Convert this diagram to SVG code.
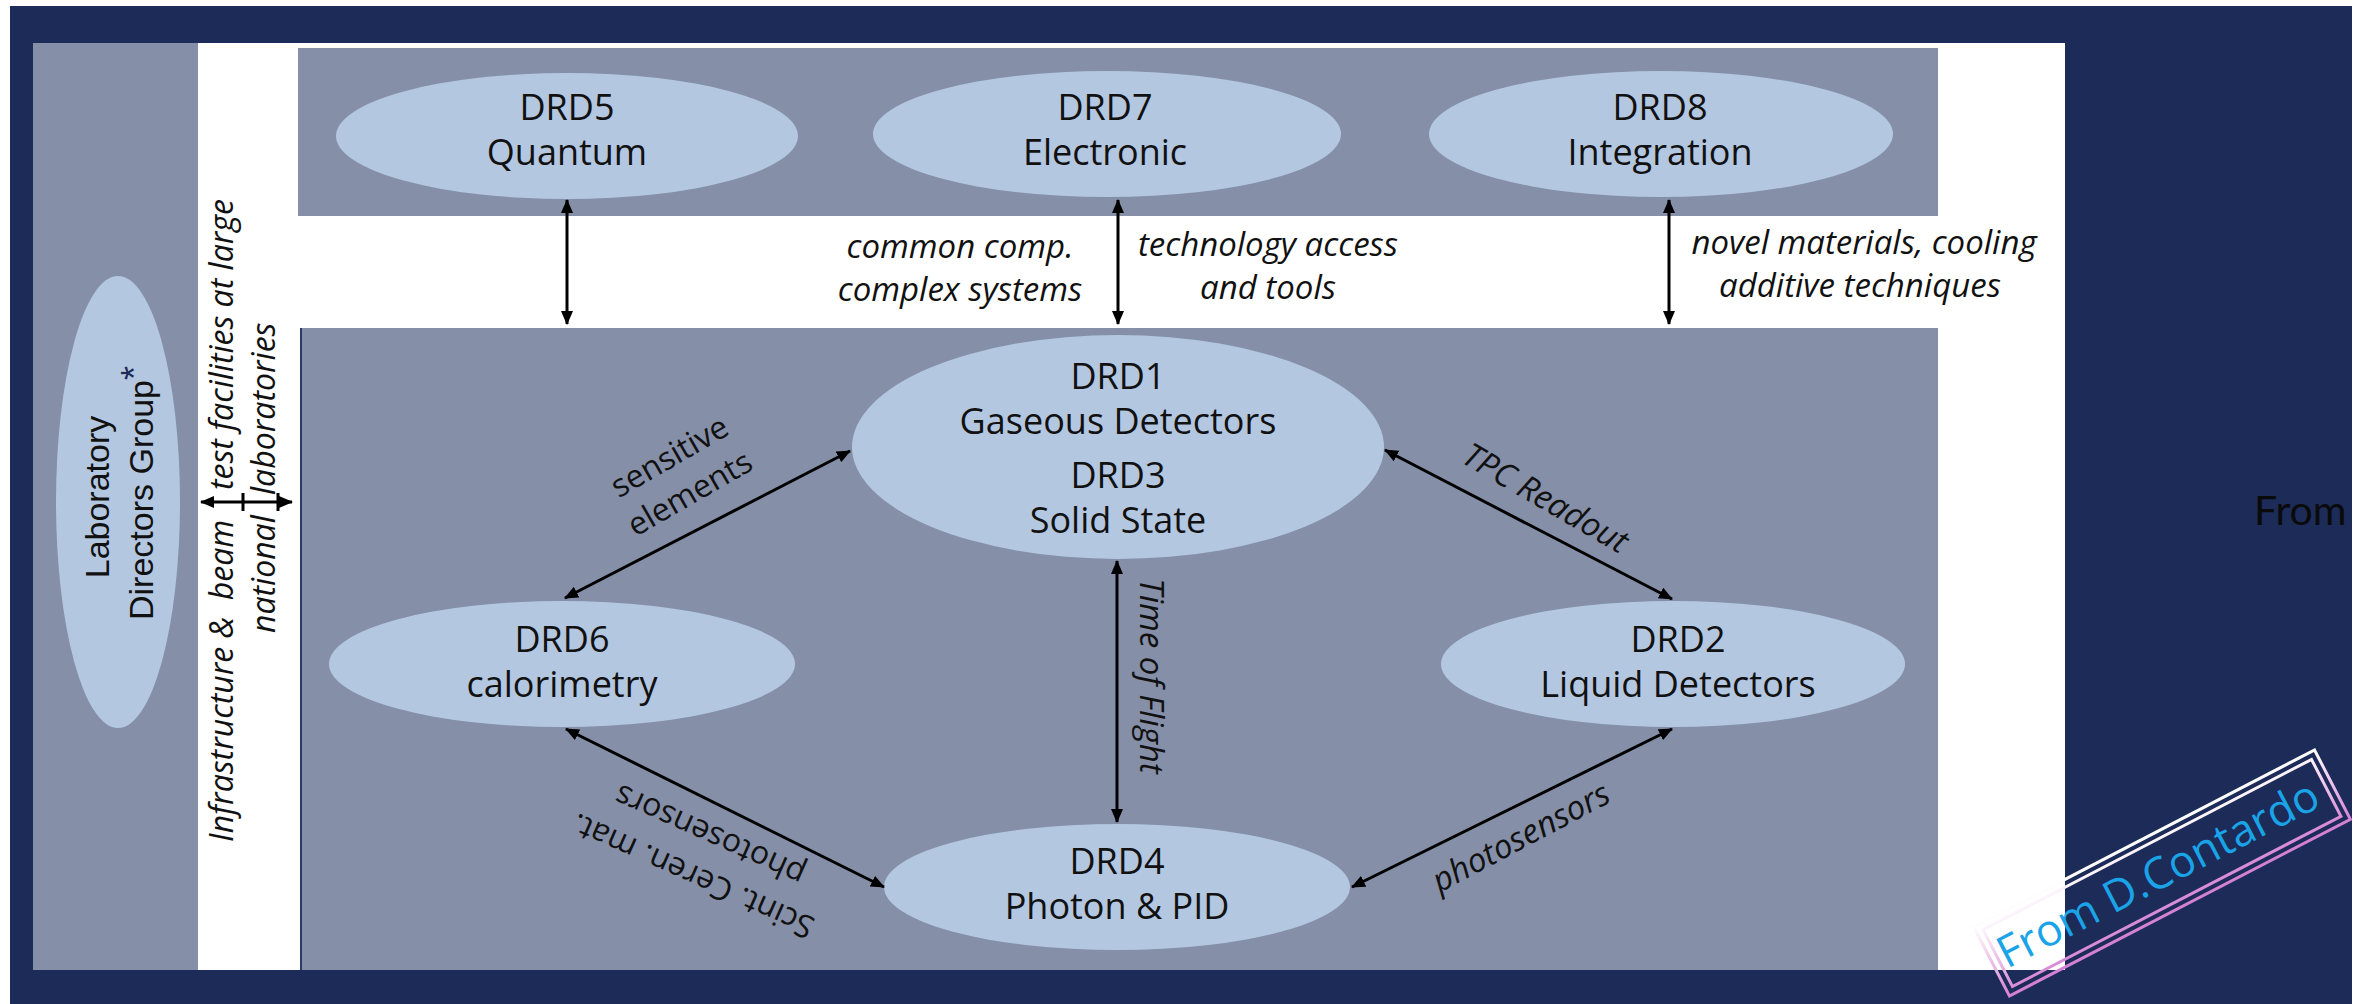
<svg xmlns="http://www.w3.org/2000/svg" width="2364" height="1004" viewBox="0 0 2364 1004">
<defs>
<style>
.navy{fill:#1c2b57}
.panel{fill:#858fa8}
.node ellipse{fill:#b4c7e1}
.nt{font-family:"Open Sans","Liberation Sans",sans-serif;font-size:36px;fill:#111;text-anchor:middle}
.cal{font-family:"Liberation Sans",Arial,sans-serif;font-size:34px;fill:#111;text-anchor:middle}
.lbl{font-family:"Open Sans","Liberation Sans",sans-serif;font-size:33px;font-style:italic;fill:#111;text-anchor:middle}
.lblu{font-family:"Open Sans","Liberation Sans",sans-serif;font-size:32px;fill:#111;text-anchor:middle}
.side{font-family:"Open Sans","Liberation Sans",sans-serif;font-size:32px;font-style:italic;fill:#111;text-anchor:start}
#connectors line{stroke:#000;stroke-width:3}
#connectors .arr{marker-start:url(#ah);marker-end:url(#ah)}
.frame{fill:none;stroke:url(#stampg);stroke-width:3}
</style>
<marker id="ah" viewBox="0 0 14 12" refX="13" refY="6" markerWidth="14" markerHeight="12" markerUnits="userSpaceOnUse" orient="auto-start-reverse"><path d="M0,0 L14,6 L0,12 z" fill="#000"/></marker>
<linearGradient id="stampg" gradientUnits="userSpaceOnUse" x1="0" y1="-40" x2="0" y2="40"><stop offset="0" stop-color="#ffffff"/><stop offset="0.35" stop-color="#f3d5f1"/><stop offset="1" stop-color="#d47fd3"/></linearGradient>
</defs>

<rect width="2364" height="1004" fill="#ffffff"/>
<rect class="navy" x="10" y="6" width="2342" height="998"/>
<rect x="198" y="43" width="1867" height="927" fill="#ffffff"/>
<rect class="panel" x="33" y="43" width="165" height="927"/>
<rect class="panel" x="298" y="48" width="1640" height="168"/>
<rect class="panel" x="301" y="328" width="1637" height="642"/>
<line x1="301" y1="328" x2="301" y2="970" stroke="#2b3c6a" stroke-width="2"/>

<g id="lab" class="node">
<ellipse cx="118" cy="502" rx="62" ry="226"/>
<g transform="rotate(-90)">
<text class="cal"><tspan x="-497" y="109">Laboratory</tspan><tspan x="-493" y="153">Directors Group</tspan><tspan dy="-6" style="fill:#1c2b57;font-size:36px">*</tspan></text>
</g>
</g>

<g id="drd5" class="node">
<ellipse cx="567" cy="136" rx="231" ry="63"/>
<text class="nt"><tspan x="567" y="120">DRD5</tspan><tspan x="567" y="165">Quantum</tspan></text>
</g>
<g id="drd7" class="node">
<ellipse cx="1107" cy="134" rx="234" ry="63"/>
<text class="nt"><tspan x="1105" y="120">DRD7</tspan><tspan x="1105" y="165">Electronic</tspan></text>
</g>
<g id="drd8" class="node">
<ellipse cx="1661" cy="134" rx="232" ry="63"/>
<text class="nt"><tspan x="1660" y="120">DRD8</tspan><tspan x="1660" y="165">Integration</tspan></text>
</g>
<g id="drd1-drd3" class="node">
<ellipse cx="1118" cy="447" rx="266" ry="112"/>
<text class="nt"><tspan x="1118" y="389">DRD1</tspan><tspan x="1118" y="434">Gaseous Detectors</tspan><tspan x="1118" y="488">DRD3</tspan><tspan x="1118" y="533">Solid State</tspan></text>
</g>
<g id="drd6" class="node">
<ellipse cx="562" cy="664" rx="233" ry="63"/>
<text class="nt"><tspan x="562" y="652">DRD6</tspan><tspan x="562" y="697">calorimetry</tspan></text>
</g>
<g id="drd2" class="node">
<ellipse cx="1673" cy="664" rx="232" ry="63"/>
<text class="nt"><tspan x="1678" y="652">DRD2</tspan><tspan x="1678" y="697">Liquid Detectors</tspan></text>
</g>
<g id="drd4" class="node">
<ellipse cx="1117" cy="887" rx="233" ry="63"/>
<text class="nt"><tspan x="1117" y="874">DRD4</tspan><tspan x="1117" y="919">Photon &amp; PID</tspan></text>
</g>

<g id="connectors">
<line class="arr" x1="567" y1="200" x2="567" y2="324"/>
<line class="arr" x1="1118" y1="200" x2="1118" y2="324"/>
<line class="arr" x1="1669" y1="200" x2="1669" y2="324"/>
<line class="arr" x1="850" y1="451" x2="565" y2="598"/>
<line class="arr" x1="1385" y1="450" x2="1672" y2="599"/>
<line class="arr" x1="1117" y1="561" x2="1117" y2="822"/>
<line class="arr" x1="566" y1="729" x2="884" y2="887"/>
<line class="arr" x1="1672" y1="729" x2="1352" y2="887"/>
<line class="arr" x1="201" y1="502" x2="292" y2="502"/>
<line x1="243" y1="493" x2="243" y2="511"/>
<line x1="278" y1="493" x2="278" y2="511"/>
</g>

<g id="labels">
<text class="lbl"><tspan x="960" y="258">common comp.</tspan><tspan x="960" y="301">complex systems</tspan></text>
<text class="lbl"><tspan x="1268" y="256">technology access</tspan><tspan x="1268" y="299">and tools</tspan></text>
<text class="lbl"><tspan x="1864" y="254">novel materials, cooling</tspan><tspan x="1860" y="297">additive techniques</tspan></text>
<text class="lblu" transform="rotate(-30 675 466)"><tspan x="675" y="466">sensitive</tspan><tspan x="674" y="508">elements</tspan></text>
<text class="lblu" transform="rotate(204 697 866)"><tspan x="697" y="866">Scint. Ceren. mat.</tspan><tspan x="698" y="910">photosensors</tspan></text>
<text class="lbl" x="1540" y="508" transform="rotate(30 1540 508)">TPC Readout</text>
<text class="lbl" x="1526" y="847" transform="rotate(-28 1526 847)">photosensors</text>
<text class="lbl" x="1140" y="676" transform="rotate(90 1140 676)">Time of Flight</text>
<g transform="rotate(-90)">
<text class="side"><tspan x="-842" y="233">Infrastructure &amp;&#160; beam</tspan><tspan x="-490" y="233">test facilities at large</tspan><tspan x="-633" y="275">national</tspan><tspan x="-495" y="275">laboratories</tspan></text>
</g>
</g>

<text x="2254" y="525" style="font-family:Lato,'Liberation Sans',sans-serif;font-size:41px;fill:#0a0a0a">From</text>

<g id="stamp" transform="translate(2162 873) rotate(-27.4)">
<rect class="frame" x="-192" y="-39" width="384" height="78"/>
<rect class="frame" x="-185" y="-32" width="370" height="64"/>
<text x="-4" y="14" style="font-family:'Open Sans','Liberation Sans',sans-serif;font-size:44px;fill:#1aa3e6;text-anchor:middle">From D.Contardo</text>
</g>
</svg>
